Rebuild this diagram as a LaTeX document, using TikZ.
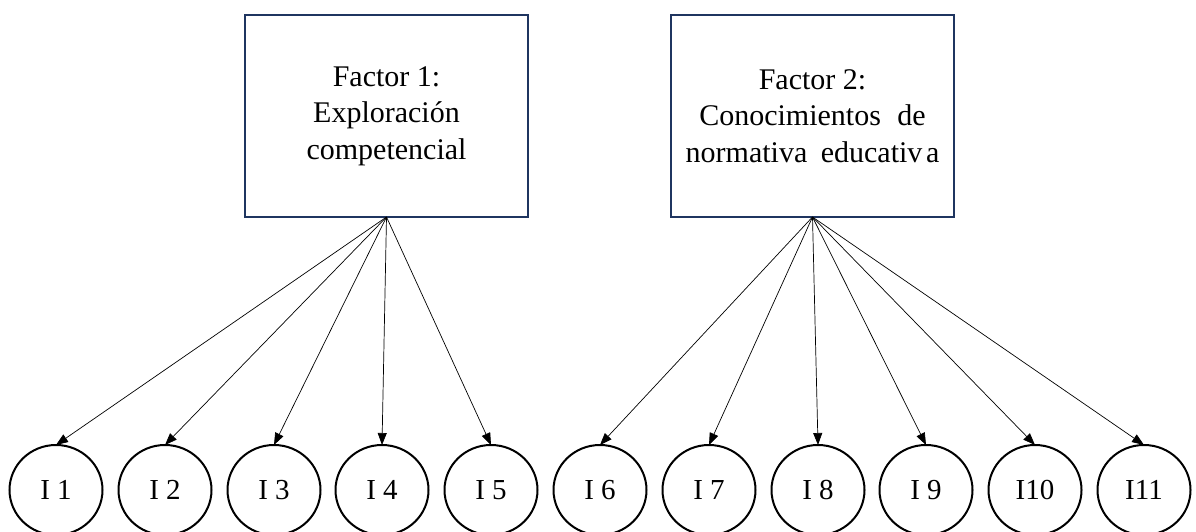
\documentclass[tikz,border=0pt]{standalone}
\usepackage{fontspec}
\setmainfont{Liberation Serif}
\usetikzlibrary{arrows.meta,shapes.geometric}
\definecolor{boxnavy}{HTML}{1F3560}
\begin{document}
\begin{tikzpicture}[x=1pt,y=-1pt,
  factorbox/.style={draw=boxnavy, line width=2.5pt, minimum width=283pt,
    minimum height=202pt, align=center, inner sep=0pt, outer sep=0pt,
    font=\fontsize{30}{36.7}\selectfont},
  item/.style={ellipse, draw=black, line width=2pt, minimum width=93pt,
    minimum height=90pt, inner sep=0pt, outer sep=0pt,
    font=\fontsize{29}{34}\selectfont},
  load/.style={-{Triangle[length=12pt,width=9pt]}, line width=0.7pt}]
\useasboundingbox (0,0) rectangle (1196,532);

% factor boxes
\node[factorbox] (f1) at (386.5,116) {Factor 1:\\Exploración\\competencial};
\node[factorbox] (f2) at (812.5,116)
  {Factor 2:\\Conocimientos\hspace{0.55em}de\\normativa\hspace{0.45em}educativ\kern0.12em a};

% items
\node[item] (i1)  at (56,490)   {I 1};
\node[item] (i2)  at (165,490)  {I 2};
\node[item] (i3)  at (274,490)  {I 3};
\node[item] (i4)  at (382,490)  {I 4};
\node[item] (i5)  at (491,490)  {I 5};
\node[item] (i6)  at (600,490)  {I 6};
\node[item] (i7)  at (709,490)  {I 7};
\node[item] (i8)  at (818,490)  {I 8};
\node[item] (i9)  at (926,490)  {I 9};
\node[item] (i10) at (1035,490) {I10};
\node[item] (i11) at (1144,490) {I11};

% loadings
\foreach \k in {1,...,5} \draw[load] (f1.south) -- (i\k.north);
\foreach \k in {6,...,11} \draw[load] (f2.south) -- (i\k.north);
\end{tikzpicture}
\end{document}
